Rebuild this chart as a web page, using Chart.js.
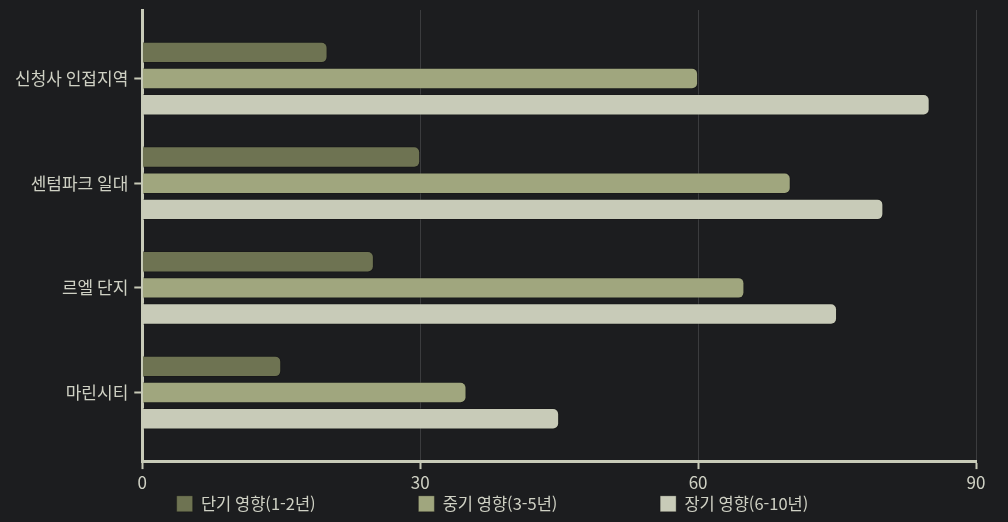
<!DOCTYPE html>
<html lang="ko">
<head>
<meta charset="utf-8">
<title>지역별 영향</title>
<script src="https://cdn.jsdelivr.net/npm/chart.js@4"></script>
<style>
  html, body { margin: 0; padding: 0; background: #1c1d1f; }
  #wrap { width: 1008px; height: 522px; }
</style>
</head>
<body>
<div id="wrap"><canvas id="chart"></canvas></div>
<script>
// data
const categories = ['신청사 인접지역', '센텀파크 일대', '르엘 단지', '마린시티'];
const seriesNames = ['단기 영향(1-2년)', '중기 영향(3-5년)', '장기 영향(6-10년)'];
const shortTerm = [20, 30, 25, 15];
const midTerm = [60, 70, 65, 35];
const longTerm = [85, 80, 75, 45];
const xTicks = [0, 30, 60, 90];

const colors = ['#6e7352', '#a0a67e', '#c8cbb8'];
const axisColor = '#c8cbb8';
const textColor = '#cfd1c4';
const FONT = "'Noto Sans CJK KR', 'Noto Sans', sans-serif";

// rows on a linear index axis so the category bands can sit inside a taller plot
const toPoints = vals => vals.map((v, i) => ({ x: v, y: i }));

// spacing between legend items (legend padding would also grow its height)
const LEGEND_GAP = '\u3000\u3000\u3000\u3000\u3000\u3000 ';

const datasets = [shortTerm, midTerm, longTerm].map((vals, i) => ({
  label: seriesNames[i],
  data: toPoints(vals),
  backgroundColor: colors[i],
  borderColor: 'rgba(20,20,18,0.35)',
  borderWidth: 1,
  borderSkipped: 'start',
  borderRadius: 6,
  categoryPercentage: 0.75,
  barPercentage: 0.82
}));

new Chart(document.getElementById('chart'), {
  type: 'bar',
  data: { datasets },
  options: {
    indexAxis: 'y',
    responsive: true,
    maintainAspectRatio: false,
    animation: false,
    layout: { padding: { top: 10, right: 32, bottom: 0, left: 9 } },
    scales: {
      x: {
        type: 'linear',
        position: 'bottom',
        min: xTicks[0],
        max: xTicks[xTicks.length - 1],
        afterBuildTicks: s => { s.ticks = xTicks.map(v => ({ value: v })); },
        grid: { color: '#3b3c3e', lineWidth: 1, tickColor: axisColor, tickWidth: 2, tickLength: 8 },
        border: { color: axisColor, width: 3 },
        ticks: { color: textColor, font: { family: FONT, size: 17 }, padding: 3 }
      },
      y: {
        type: 'linear',
        reverse: true,
        offset: false,
        min: -0.655,
        max: categories.length - 1 + 0.655,
        afterBuildTicks: s => { s.ticks = categories.map((c, i) => ({ value: i })); },
        // ticks sit well inside the plot, no label overhang to reserve
        afterFit: s => { s.paddingTop = 0; s.paddingBottom = 0; },
        grid: { offset: false, drawOnChartArea: false, tickColor: axisColor, tickWidth: 2, tickLength: 8 },
        border: { color: axisColor, width: 3 },
        ticks: {
          color: textColor,
          font: { family: FONT, size: 17 },
          padding: 6,
          callback: v => categories[v]
        }
      }
    },
    plugins: {
      tooltip: { enabled: false },
      legend: {
        position: 'bottom',
        labels: {
          color: textColor,
          font: { family: FONT, size: 16.5 },
          boxWidth: 16,
          boxHeight: 16,
          padding: 0,
          generateLabels(chart) {
            const items = Chart.defaults.plugins.legend.labels.generateLabels(chart);
            items.forEach((it, i) => { if (i < items.length - 1) it.text += LEGEND_GAP; });
            return items;
          }
        }
      }
    }
  }
});
</script>
</body>
</html>
